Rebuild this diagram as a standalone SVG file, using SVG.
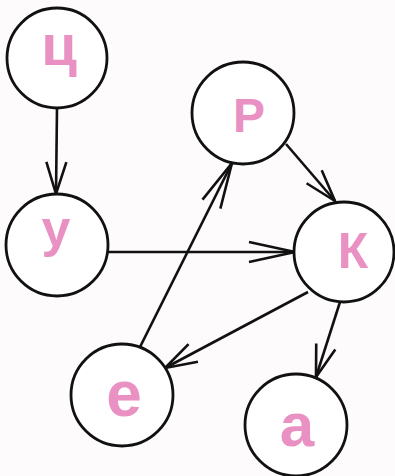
<svg xmlns="http://www.w3.org/2000/svg" width="395" height="476" viewBox="0 0 395 476">
<style>
.node circle{fill:#fff;stroke:#111;stroke-width:2.8}
.node text{fill:#ea91c3;font-family:"Liberation Sans",Arial,sans-serif;font-weight:bold;text-anchor:middle}
.edge{stroke:#111;stroke-width:2.6;fill:none}
.head{fill:none;stroke:#111;stroke-width:2.6;stroke-linejoin:miter}
</style>
<defs>
<marker id="arr" markerUnits="userSpaceOnUse" orient="auto" refX="0" refY="0" markerWidth="40" markerHeight="30" overflow="visible">
<path class="head" d="M-32,-10 L0,0 L-32,10"/>
</marker>
<marker id="arrlong" markerUnits="userSpaceOnUse" orient="auto" refX="0" refY="0" markerWidth="50" markerHeight="30" overflow="visible">
<path class="head" d="M-46,-10 L0,0 L-46,10"/>
</marker>
</defs>
<rect width="395" height="476" fill="#fdfbfc"/>
<g id="edges">
<line class="edge" x1="57" y1="108" x2="56" y2="194" marker-end="url(#arr)"/>
<line class="edge" x1="107" y1="252" x2="295" y2="252" marker-end="url(#arrlong)"/>
<line class="edge" x1="286" y1="144" x2="335" y2="201" marker-end="url(#arr)"/>
<line class="edge" x1="140" y1="347" x2="232" y2="163" marker-end="url(#arrlong)"/>
<line class="edge" x1="308" y1="292" x2="165" y2="368" marker-end="url(#arr)"/>
<line class="edge" x1="340" y1="302" x2="316" y2="377" marker-end="url(#arr)"/>
</g>
<g id="node-ts" class="node"><circle cx="57" cy="58" r="50"/><text x="59" y="65" font-size="58">ц</text></g>
<g id="node-u" class="node"><circle cx="57" cy="245" r="51"/><text x="56" y="246" font-size="52">у</text></g>
<g id="node-r" class="node"><circle cx="243" cy="113" r="51"/><text x="249" y="132" font-size="48">Р</text></g>
<g id="node-k" class="node"><circle cx="344" cy="252" r="50"/><text x="353" y="268" font-size="50">К</text></g>
<g id="node-e" class="node"><circle cx="122" cy="395" r="51"/><text x="124" y="416" font-size="64">е</text></g>
<g id="node-a" class="node"><circle cx="296" cy="425" r="51"/><text x="297" y="446" font-size="62">а</text></g>
</svg>
